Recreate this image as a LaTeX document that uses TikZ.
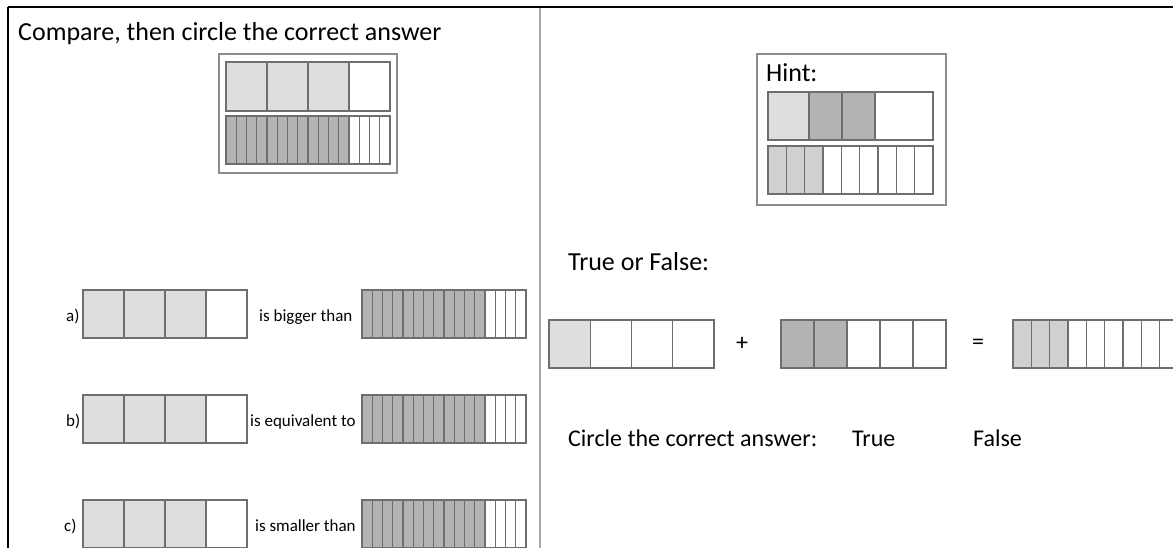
\documentclass[tikz,border=0pt]{standalone}
\usepackage{fontspec}
\setmainfont{Carlito}
\definecolor{lightc}{HTML}{DEDEDE}
\definecolor{darkc}{HTML}{B3B3B3}
\definecolor{midc}{HTML}{D0D0D0}
\definecolor{edgec}{HTML}{6E6E6E}
\definecolor{framec}{HTML}{8C8C8C}
\definecolor{divc}{HTML}{A8A8A8}
\tikzset{
 barbox/.style={draw=edgec, line width=1.2pt, inner sep=0pt, outer sep=0pt, anchor=north west, rectangle},
 cellline/.style={edgec, line width=1.1pt},
 framebox/.style={draw=framec, line width=1.6pt, inner sep=0pt, outer sep=0pt, anchor=north west, rectangle},
 bigtext/.style={inner sep=0pt, anchor=base west, font=\fontsize{26}{30}\selectfont},
 midtext/.style={inner sep=0pt, anchor=base west, font=\fontsize{24}{28}\selectfont},
 smalltext/.style={inner sep=0pt, anchor=base west, font=\fontsize{17}{20}\selectfont},
 optext/.style={inner sep=0pt, anchor=center, font=\fontsize{24}{28}\selectfont},
}
\newcommand{\mybar}[8]{%
 \foreach \i in {1,...,#7}{\fill[#8] ({#2+(\i-1)*#4/#6},#3) rectangle ({#2+\i*#4/#6},{#3+#5});}
 \pgfmathtruncatemacro{\nm}{#6-1}
 \foreach \i in {1,...,\nm}{\draw[cellline] ({#2+\i*#4/#6},#3) -- ({#2+\i*#4/#6},{#3+#5});}
 \node[barbox, minimum width=#4pt, minimum height=#5pt] (#1) at (#2,#3) {};
}
\begin{document}
\begin{tikzpicture}[x=1pt,y=-1pt]
\useasboundingbox (0,0) rectangle (1173,548);
\clip (0,0) rectangle (1173,548);
\fill[white] (0,0) rectangle (1173,548);
% outer frame lines and divider
\coordinate (tl) at (8,7);
\coordinate (tr) at (1173,7);
\coordinate (bl) at (8,548);
\coordinate (dtop) at (540,8);
\coordinate (dbot) at (540,548);
\draw[black, line width=1.6pt] (bl) -- (tl);
\draw[black, line width=2.6pt] (tl) -- (tr);
\draw[divc, line width=2pt] (dtop) -- (dbot);

% title
\node[bigtext] (title) at (18,41) {Compare, then circle the correct answer};

% top-left frame
\node[framebox, minimum width=178pt, minimum height=119pt] (frameA) at (219,54) {};
\mybar{tlA}{226}{62}{164}{49}{4}{3}{lightc}
\mybar{tlB}{226}{116}{164}{48}{16}{12}{darkc}

% rows
\node[smalltext] (la) at (66,321) {a)};
\mybar{raL}{83}{290}{164}{48}{4}{3}{lightc}
\node[smalltext] (ta) at (259,321) {is bigger than};
\mybar{raR}{362}{290}{164}{48}{16}{12}{darkc}

\node[smalltext] (lb) at (66,426) {b)};
\mybar{rbL}{83}{395}{164}{48}{4}{3}{lightc}
\node[smalltext] (tb) at (250,426) {is equivalent to};
\mybar{rbR}{362}{395}{164}{48}{16}{12}{darkc}

\node[smalltext] (lc) at (64,531) {c)};
\mybar{rcL}{83}{500}{164}{48}{4}{3}{lightc}
\node[smalltext] (tc) at (255,531) {is smaller than};
\mybar{rcR}{362}{500}{164}{48}{16}{12}{darkc}

% hint frame
\node[framebox, minimum width=189pt, minimum height=151pt] (frameH) at (757,54) {};
\node[bigtext] (hint) at (766,82) {Hint:};
\fill[lightc] (768,92) rectangle (809,140);
\fill[darkc] (809,92) rectangle (875,140);
\draw[cellline] (809,92) -- (809,140);
\draw[cellline] (842,92) -- (842,140);
\draw[cellline] (875,92) -- (875,140);
\node[barbox, minimum width=165pt, minimum height=48pt] (hintA) at (768,92) {};
\mybar{hintB}{768}{146}{165}{48}{9}{3}{midc}

% true or false
\node[bigtext] (tf) at (568,271) {True or False:};
\mybar{eqA}{549}{320}{165}{48}{4}{1}{lightc}
\node[optext] (plus) at (742,344) {+};
\mybar{eqB}{781}{320}{165}{48}{5}{2}{darkc}
\node[optext] (eq) at (978,344) {=};
\mybar{eqC}{1013}{320}{165}{48}{9}{3}{midc}

\node[midtext] (circ) at (568,446) {Circle the correct answer:};
\node[midtext] (tru) at (852,446) {True};
\node[midtext] (fal) at (973,446) {False};
\end{tikzpicture}
\end{document}
